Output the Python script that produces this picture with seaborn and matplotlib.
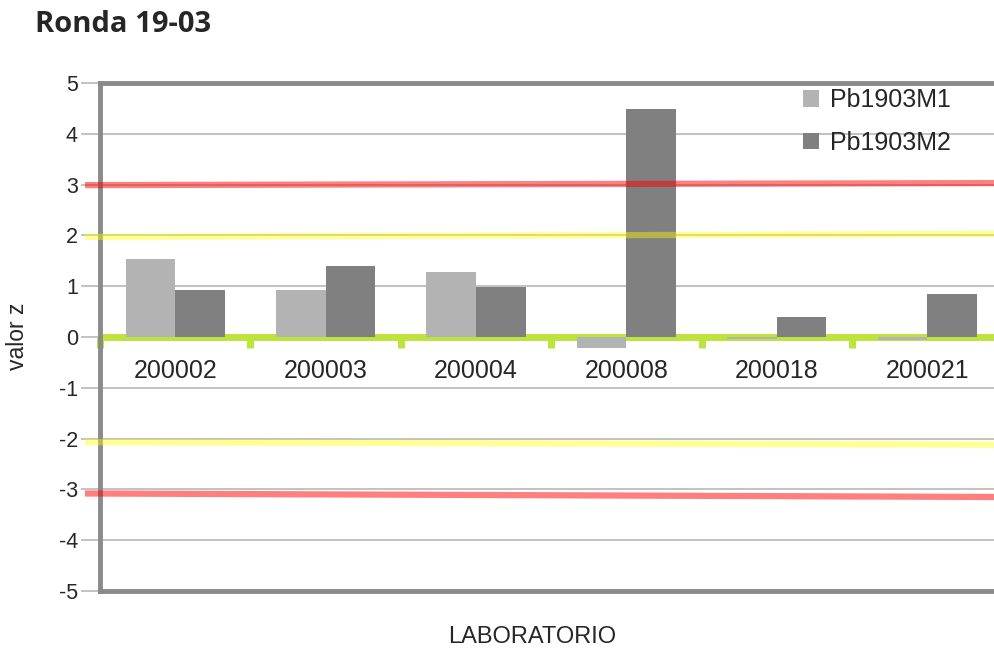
import matplotlib
matplotlib.use("Agg")
import matplotlib.pyplot as plt
import seaborn as sns
import pandas as pd
from matplotlib.patches import Patch

# ---- data ----
categories = ["200002", "200003", "200004", "200008", "200018", "200021"]
series_names = ["Pb1903M1", "Pb1903M2"]
pb1903m1 = [1.54, 0.93, 1.28, -0.21, -0.04, -0.06]
pb1903m2 = [0.93, 1.40, 0.99, 4.48, 0.39, 0.85]
limit_left = [2.99, 1.97, -2.07, -3.08]
limit_right = [3.03, 2.03, -2.12, -3.15]
limit_colors = ["#ff0000", "#ffff00", "#ffff00", "#ff0000"]
limit_alphas = [0.5, 0.42, 0.42, 0.5]
y_ticks = [-5, -4, -3, -2, -1, 0, 1, 2, 3, 4, 5]
title = "Ronda 19-03"
xlabel = "LABORATORIO"
ylabel = "valor z"

df = pd.DataFrame({
    "lab": categories * 2,
    "serie": [series_names[0]] * len(categories) + [series_names[1]] * len(categories),
    "z": pb1903m1 + pb1903m2,
})

sns.set_style("white")
plt.rcParams["font.family"] = ["Liberation Sans", "DejaVu Sans"]

W, H = 995, 648
fig = plt.figure(figsize=(W / 100, H / 100), dpi=100)
ax = fig.add_axes([100 / W, 1 - 591 / H, (W - 100) / W, (591 - 83) / H])

colors = {"Pb1903M1": "#b3b3b3", "Pb1903M2": "#808080"}
sns.barplot(data=df, x="lab", y="z", hue="serie", palette=colors,
            width=0.66, gap=0, saturation=1, ax=ax, zorder=3,
            legend=False, errorbar=None, linewidth=0, edgecolor="none")

ax.set_xlim(-0.5, -0.5 + (W - 100) / 150.4)
ax.set_ylim(-5, 5)
ax.set_yticks(y_ticks)
ax.set_yticklabels([str(t) for t in y_ticks], fontsize=15.5)
ax.set_xticks([])
ax.set_xlabel("")
ax.set_ylabel("")

# grid
for t in y_ticks:
    ax.axhline(t, color="#b8b8b8", lw=1.2, zorder=1)
ax.tick_params(axis="y", length=14, width=1.2, color="#b8b8b8", pad=2,
               direction="out", left=True)

# zero line and its tick marks
ax.axhline(0, color="#bde33d", lw=5, zorder=2)
for k in range(len(categories)):
    ax.plot([k - 0.5, k - 0.5], [0, -0.22], color="#bde33d", lw=5,
            solid_capstyle="butt", zorder=2, clip_on=False)

# limit lines
for l, r, c, a in zip(limit_left, limit_right, limit_colors, limit_alphas):
    ax.plot([-0.6, 5.5], [l, r], color=c, alpha=a, lw=4.5, zorder=4,
            clip_on=False, solid_capstyle="butt")
ax.set_xlim(-0.5, -0.5 + (W - 100) / 150.4)

# category labels inside
for i, c in enumerate(categories):
    ax.text(i, -0.67, c, ha="center", va="center", fontsize=18, zorder=5)

# spines
for s in ["left", "top", "bottom"]:
    ax.spines[s].set_visible(True)
    ax.spines[s].set_color("#8a8a8a")
    ax.spines[s].set_linewidth(3.5)
ax.spines["right"].set_visible(False)

handles = [Patch(facecolor=colors[n], edgecolor="none", label=n) for n in series_names]
fig.legend(handles=handles, loc="upper left",
           bbox_to_anchor=(803 / W, 1 - 88 / H), frameon=False, fontsize=18,
           handlelength=0.65, handleheight=0.65, handletextpad=0.45,
           labelspacing=0.75, borderpad=0, borderaxespad=0)

fig.text(35 / W, 1 - 25 / H, title, fontsize=21, fontweight="bold",
         family=["Open Sans", "DejaVu Sans"], ha="left", va="center")
fig.text(532 / W, 1 - 637 / H, xlabel, fontsize=17, ha="center", va="center")
fig.text(18 / W, 1 - 336 / H, ylabel, fontsize=16.5, ha="center", va="center",
         rotation=90)

fig.savefig("out.png", dpi=100)
